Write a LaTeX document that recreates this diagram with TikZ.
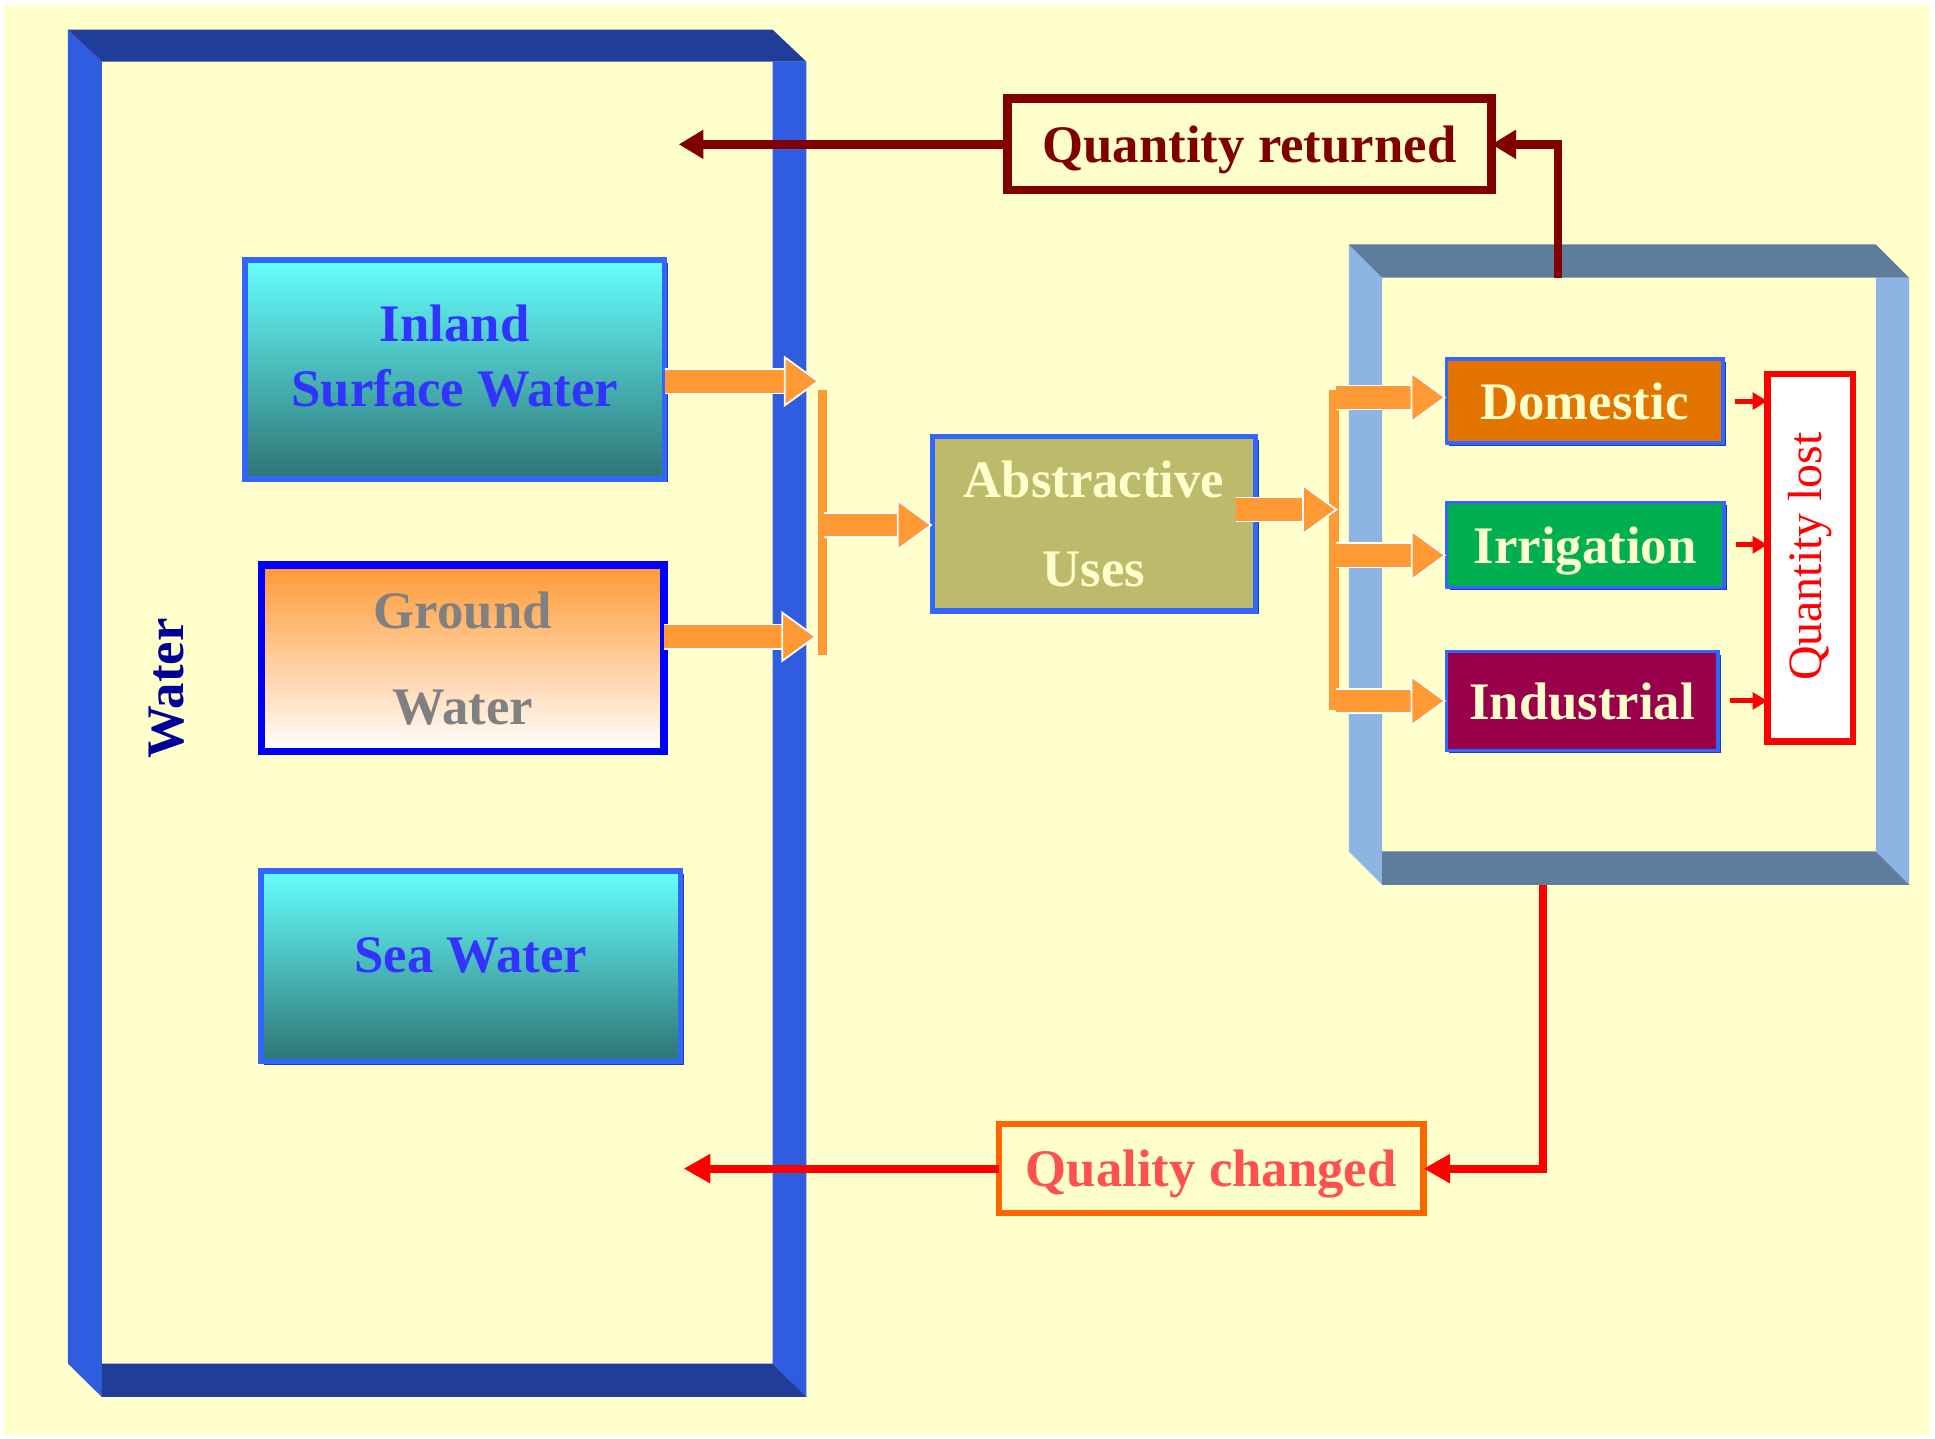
\documentclass[tikz,border=0pt]{standalone}
\usepackage{fontspec}
\setmainfont{Liberation Serif}
\usetikzlibrary{arrows.meta,shadows}

\definecolor{bgcream}{HTML}{FFFFCC}
\definecolor{frameside}{HTML}{305CDF}
\definecolor{framedark}{HTML}{1F3D99}
\definecolor{steeltop}{HTML}{5E7C9B}
\definecolor{steelside}{HTML}{8DB4E2}
\definecolor{boxblue}{HTML}{3366FF}
\definecolor{tealtop}{HTML}{66FFFF}
\definecolor{tealbot}{HTML}{2E7474}
\definecolor{flowor}{HTML}{FF9933}
\definecolor{olive}{HTML}{BDBB6B}
\definecolor{domor}{HTML}{E37400}
\definecolor{irrgreen}{HTML}{00B050}
\definecolor{indred}{HTML}{990049}
\definecolor{retred}{HTML}{800000}
\definecolor{chgor}{HTML}{FF6600}
\definecolor{chgtext}{HTML}{FF5050}
\definecolor{txtblue}{HTML}{3333FF}
\definecolor{navy}{HTML}{000099}

\newcommand{\lblfont}{\fontsize{15.2}{18}\selectfont\bfseries}

\tikzset{
  srcbox/.style={draw=boxblue, line width=1.6pt, inner sep=0pt, outer sep=0pt, align=center,
    drop shadow={shadow xshift=0.9pt, shadow yshift=-0.9pt, fill=framedark, opacity=1}},
  usebox/.style={srcbox, line width=1pt, text=bgcream, font=\lblfont, text depth=0pt},
  boxtext/.style={inner sep=0pt, align=center},
  outbox/.style={draw, fill=bgcream, line width=1.8pt, inner sep=0pt, outer sep=0pt, font=\lblfont, text depth=0pt},
  flow/.style={draw=flowor, line width=0.23cm,
    -{Triangle[length=0.36cm, width=0.52cm, color=white, fill=flowor, line width=0.5pt]},
    preaction={draw=white, line width=0.26cm, -, shorten >=0.3cm}},
  flowbar/.style={draw=flowor, line width=0.1cm},
  loss/.style={draw=red, line width=0.05cm, shorten <=0.12cm,
    -{Triangle[length=0.15cm, width=0.17cm]}},
  retline/.style={draw=retred, line width=2.5pt, -{Triangle[length=0.25cm, width=0.28cm]}},
  chgline/.style={draw=red, line width=2.3pt, -{Triangle[length=0.27cm, width=0.28cm]}},
}

\begin{document}
\begin{tikzpicture}[x=0.0125cm, y=-0.0125cm]

    \useasboundingbox (0,0) rectangle (1568,1166);
    \fill[white] (0,0) rectangle (1568,1166);
    \fill[bgcream] (3,4) rectangle (1564,1163);

    % water frame
    \fill[frameside] (55,24) -- (82.5,50) -- (82.5,1132) -- (55,1105) -- cycle;
    \fill[frameside] (626,50) -- (653.5,50) -- (653.5,1132) -- (626,1105) -- cycle;
    \fill[framedark] (55,24) -- (626,24) -- (653.5,50) -- (82.5,50) -- cycle;
    \fill[framedark] (82.5,1105) -- (626,1105) -- (653.5,1132) -- (82.5,1132) -- cycle;

    % uses frame
    \fill[steelside] (1093,198) -- (1120,225) -- (1120,717) -- (1093,690) -- cycle;
    \fill[steelside] (1520,225) -- (1547,225) -- (1547,717) -- (1520,690) -- cycle;
    \fill[steeltop] (1093,198) -- (1520,198) -- (1547,225) -- (1120,225) -- cycle;
    \fill[steeltop] (1120,690) -- (1520,690) -- (1547,717) -- (1120,717) -- cycle;

    \node[rotate=90, text=navy, font=\lblfont] (water) at (135,558) {Water};

    \node[srcbox, top color=tealtop, bottom color=tealbot, minimum width=4.25cm, minimum height=2.22cm] (isw) at (368.5,299.5) {};
    \node[boxtext, text=txtblue, font={\fontsize{15.2}{18.8}\selectfont\bfseries}] (iswlbl) at (368.5,288.5) {Inland\\Surface Water};

    \node[srcbox, draw=blue, line width=2.2pt, top color=flowor, bottom color=white, minimum width=4.08cm, minimum height=1.89cm,
      text=gray, font={\fontsize{15.2}{27.6}\selectfont\bfseries}] (gw) at (375,533.5) {Ground\\Water};

    \node[srcbox, top color=tealtop, bottom color=tealbot, minimum width=4.25cm, minimum height=1.93cm] (sea) at (381.5,783) {};
    \node[boxtext, text=txtblue, font=\lblfont] (sealbl) at (381.5,774) {Sea Water};

    \node[srcbox, fill=olive, minimum width=3.27cm, minimum height=1.77cm,
      text=bgcream, font={\fontsize{15.2}{25.6}\selectfont\bfseries}] (abs) at (886.5,424.5) {Abstractive\\Uses};

    \node[usebox, fill=domor, minimum width=2.8cm, minimum height=0.85cm] (dom) at (1284,325) {Domestic};
    \node[usebox, fill=irrgreen, minimum width=2.81cm, minimum height=0.86cm] (irr) at (1284.5,441.5) {Irrigation};
    \node[usebox, fill=indred, minimum width=2.75cm, minimum height=1cm] (ind) at (1282,568) {Industrial};

    \node[outbox, draw=red, fill=white, minimum width=0.87cm, minimum height=3.72cm] (qlost) at (1467,452) {};
    \node[rotate=90, text=red, font={\fontsize{13.8}{16}\selectfont}] (qlostlbl) at (1467,451) {Quantity lost};

    \node[outbox, draw=retred, text=retred, line width=2.4pt, minimum width=4.9cm, minimum height=0.93cm] (qret) at (1012.5,117) {Quantity returned};
    \node[outbox, draw=chgor, text=chgtext, minimum width=4.3cm, minimum height=0.9cm] (qchg) at (981.5,947) {Quality changed};

    % flows into abstractive uses
    \coordinate (b1top) at (666.5,316);
    \coordinate (b1bot) at (666.5,531);
    \coordinate (in1) at (664,309);
    \coordinate (in2) at (662,516);
    \coordinate (mid1) at (668,425.5);
    \draw[flowbar] (b1top) -- (b1bot);
    \draw[flow] (in1 -| isw.east) -- (in1);
    \draw[flow] (in2 -| gw.east) -- (in2);
    \draw[flow] (mid1) -- (mid1 -| abs.west);

    % flows into the uses
    \coordinate (b2top) at (1081,316);
    \coordinate (b2bot) at (1081,575);
    \coordinate (mid2) at (1084,413);
    \coordinate (out1) at (1083,322);
    \coordinate (out2) at (1083,450);
    \coordinate (out3) at (1083,568);
    \draw[flowbar] (b2top) -- (b2bot);
    \draw[flow] ([xshift=-0.2cm]mid2 -| abs.east) -- (mid2);
    \draw[flow] (out1) -- (out1 -| dom.west);
    \draw[flow] (out2) -- (out2 -| irr.west);
    \draw[flow] (out3) -- (out3 -| ind.west);

    \draw[loss] (dom.east) -- (dom.east -| qlost.west);
    \draw[loss] (irr.east) -- (irr.east -| qlost.west);
    \draw[loss] (ind.east) -- (ind.east -| qlost.west);

    % returns to the water
    \coordinate (rtop) at (1262.5,225);
    \coordinate (retin) at (550,117);
    \draw[retline] (rtop) |- (qret.east);
    \draw[retline] (qret.west) -- (retin);

    \coordinate (rbot) at (1250,717);
    \coordinate (chgin) at (554,947);
    \draw[chgline] (rbot) |- (qchg.east);
    \draw[chgline] (qchg.west) -- (chgin);

\end{tikzpicture}
\end{document}
